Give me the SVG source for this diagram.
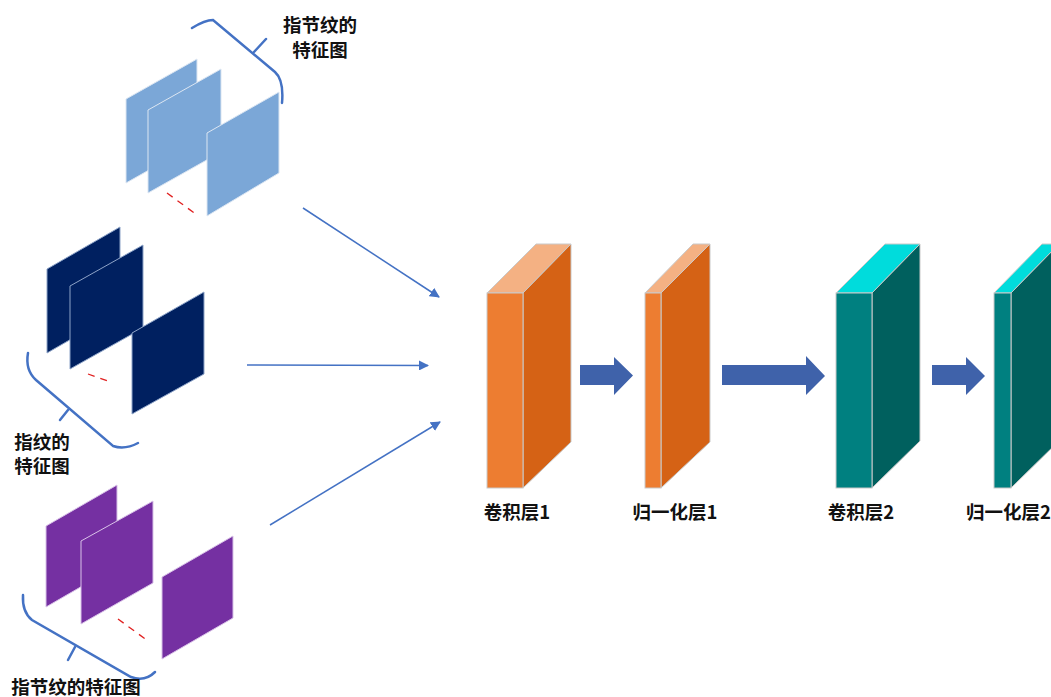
<svg xmlns="http://www.w3.org/2000/svg" width="1051" height="697" viewBox="0 0 1051 697">
<style>
.t{font-family:"Noto Sans CJK SC","Liberation Sans",sans-serif;font-weight:bold;font-size:18.5px;fill:#111}
.brace{fill:none;stroke:#4472C4;stroke-width:2.5;stroke-linecap:round}
.dash{stroke:#E02020;stroke-width:1.3;stroke-dasharray:7,6}
.lb{fill:#7BA7D7;stroke:#DCE6F2;stroke-width:1}
.nv{fill:#002060;stroke:#8EA4C8;stroke-width:1}
.pu{fill:#7530A2;stroke:#D9C2E8;stroke-width:1}
.conn{stroke:#4472C4;stroke-width:1.5;fill:none}
.barrow{fill:#3F62AA}
.edge{stroke:#C9C9C9;stroke-width:1}
</style>
<defs>
<marker id="ah" markerWidth="10" markerHeight="10" refX="9" refY="5" orient="auto" markerUnits="userSpaceOnUse">
<path d="M0,0 L10,5 L0,10 z" fill="#4472C4"/>
</marker>
</defs>
<rect width="1051" height="697" fill="#fff"/>

<g id="fm-top">
<polygon class="lb" points="126,99 197,59 197,143 126,183"/>
<polygon class="lb" points="148,110 221,69 221,152 148,193"/>
<polygon class="lb" points="207,133 279,92 279,173 207,216"/>
<line class="dash" x1="167" y1="193" x2="197" y2="215"/>
<path class="brace" d="M192,28 Q205,20 213,20 L275,72 Q284,80 282,103"/>
<line class="brace" x1="254" y1="52" x2="266" y2="39"/>
<text class="t" x="320" y="32" text-anchor="middle">指节纹的</text>
<text class="t" x="320" y="57" text-anchor="middle">特征图</text>
</g>

<g id="fm-mid">
<polygon class="nv" points="47,269 120,227 120,311 47,353"/>
<polygon class="nv" points="70,286 143,245 143,328 70,369"/>
<polygon class="nv" points="132,333 204,292 204,374 132,414"/>
<line class="dash" x1="88" y1="374" x2="111" y2="382"/>
<path class="brace" d="M28,353 Q25,370 36,380 L113,446 Q125,450 138,443"/>
<line class="brace" x1="68" y1="410" x2="60" y2="420"/>
<text class="t" x="42" y="449" text-anchor="middle">指纹的</text>
<text class="t" x="42" y="473" text-anchor="middle">特征图</text>
</g>

<g id="fm-bot">
<polygon class="pu" points="46,526 117,485 117,566 46,607"/>
<polygon class="pu" points="81,541 153,501 153,583 81,624"/>
<polygon class="pu" points="162,577 233,536 233,618 162,659"/>
<line class="dash" x1="118" y1="619" x2="148" y2="641"/>
<path class="brace" d="M23,595 Q22,612 32,620 L131,677 Q145,682 155,672"/>
<line class="brace" x1="75" y1="647" x2="68" y2="660"/>
<text class="t" x="76" y="694" text-anchor="middle">指节纹的特征图</text>
</g>

<g id="connectors">
<line class="conn" x1="303" y1="208" x2="439" y2="297" marker-end="url(#ah)"/>
<line class="conn" x1="247" y1="365" x2="428" y2="365.5" marker-end="url(#ah)"/>
<line class="conn" x1="270" y1="525" x2="440" y2="422" marker-end="url(#ah)"/>
<polygon class="barrow" points="580,365 614,365 614,357 633,375.5 614,395 614,385 580,385"/>
<polygon class="barrow" points="722,365 806,365 806,356 825,376 806,395 806,385 722,385"/>
<polygon class="barrow" points="932,365 966,365 966,357 985,376 966,395 966,385 932,385"/>
</g>

<g id="conv1">
<polygon fill="#F4B183" class="edge" points="487,293 523,293 571,244 536,244"/>
<polygon fill="#D56215" class="edge" points="523,293 571,244 571,442 523,488"/>
<rect x="487" y="293" width="36" height="195" fill="#ED7D31" class="edge"/>
<text class="t" x="517" y="519" text-anchor="middle">卷积层1</text>
</g>

<g id="norm1">
<polygon fill="#F4B183" class="edge" points="645,293 661,293 710,244 693,244"/>
<polygon fill="#D56215" class="edge" points="661,293 710,244 710,442 661,488"/>
<rect x="645" y="293" width="16" height="195" fill="#ED7D31" class="edge"/>
<text class="t" x="675" y="519" text-anchor="middle">归一化层1</text>
</g>

<g id="conv2">
<polygon fill="#00DCDC" class="edge" points="836,293 872,293 920,244 885,244"/>
<polygon fill="#00605E" class="edge" points="872,293 920,244 920,441 872,488"/>
<rect x="836" y="293" width="36" height="195" fill="#008080" class="edge"/>
<text class="t" x="861" y="519" text-anchor="middle">卷积层2</text>
</g>

<g id="norm2">
<polygon fill="#00DCDC" class="edge" points="994,293 1011,293 1059,244 1042,244"/>
<polygon fill="#00605E" class="edge" points="1011,293 1059,244 1059,441 1011,488"/>
<rect x="994" y="293" width="17" height="195" fill="#008080" class="edge"/>
<text class="t" x="966" y="519">归一化层2</text>
</g>
</svg>
